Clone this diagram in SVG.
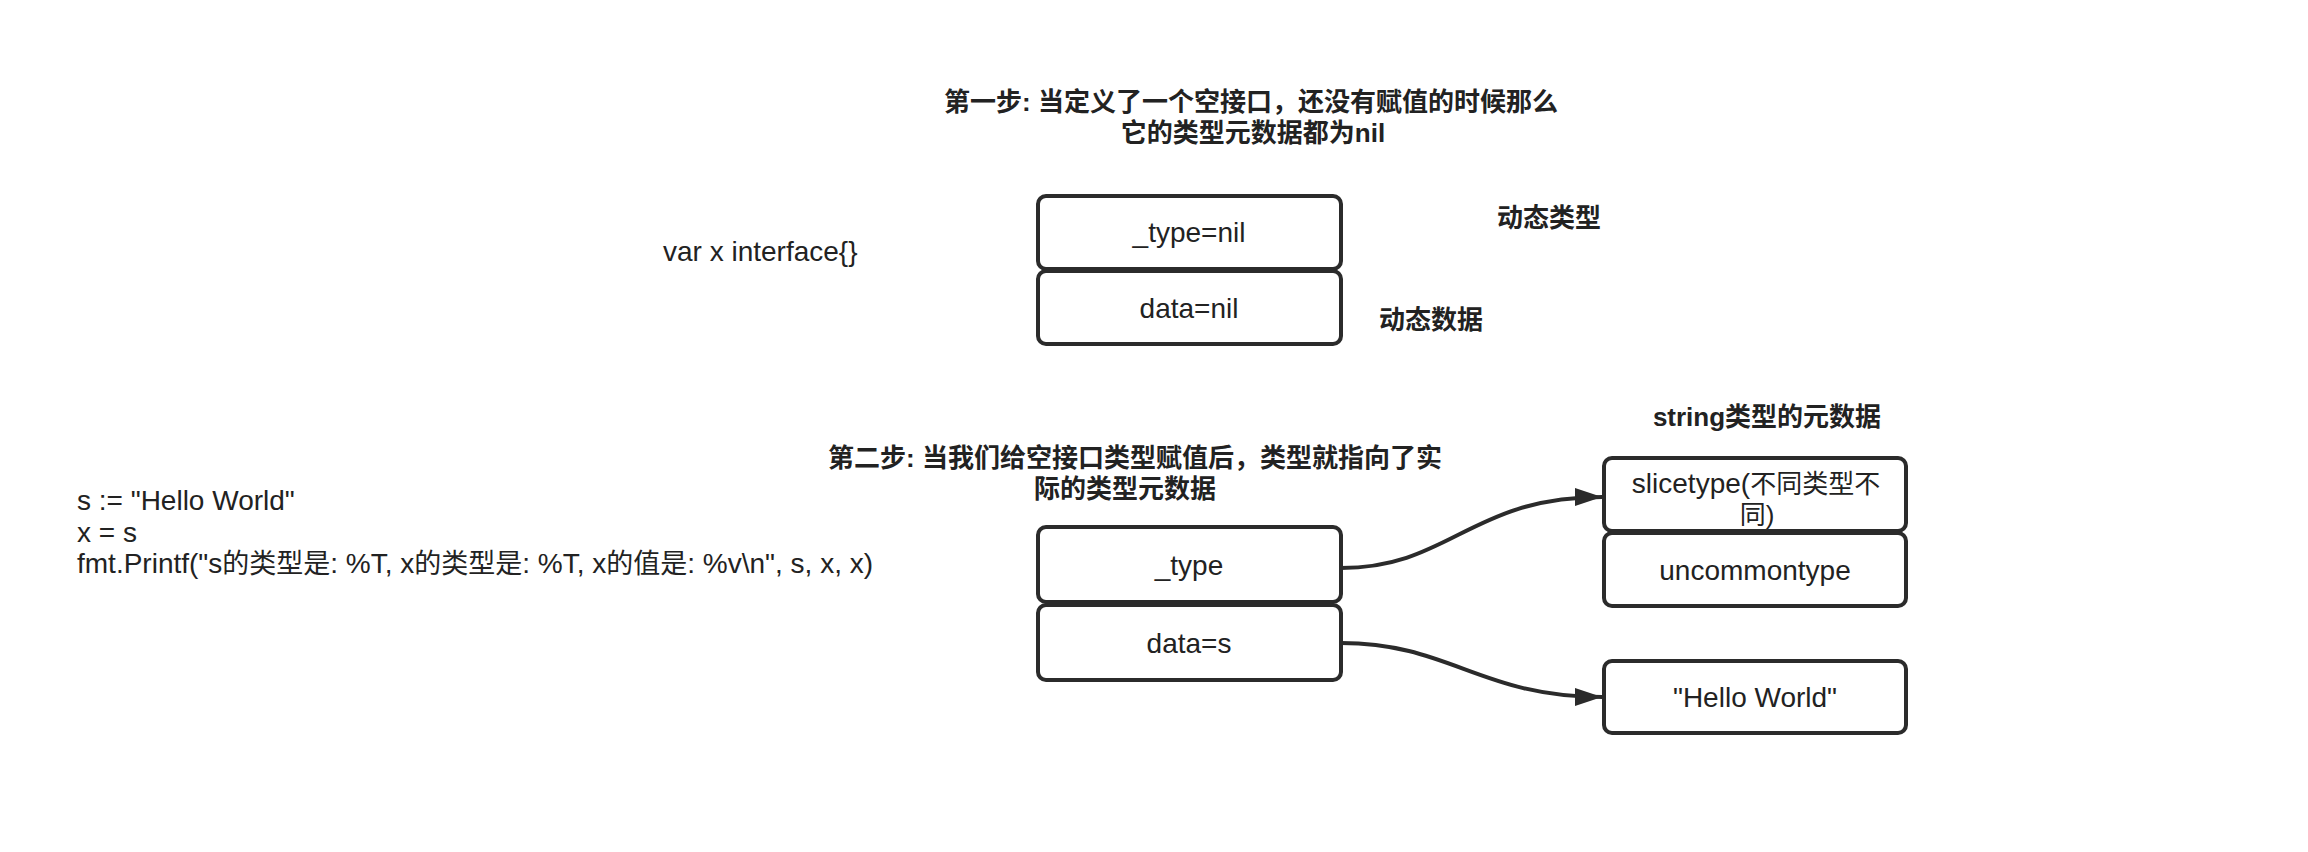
<svg xmlns="http://www.w3.org/2000/svg" width="2308" height="852" viewBox="0 0 2308 852">
<style>
text{font-family:"Liberation Sans","Noto Sans CJK SC",sans-serif;font-size:28px;fill:#222}
.b{font-weight:600;font-size:26px}
.c{text-anchor:middle}
.k{font-size:26px}
.k2{font-size:27px}
.box{fill:#fff;stroke:#2b2b2b;stroke-width:4}
.edge{fill:none;stroke:#2b2b2b;stroke-width:4}
</style>
<defs>
<marker id="arr" markerUnits="userSpaceOnUse" markerWidth="30" markerHeight="20" refX="27" refY="9" orient="auto">
<path d="M0,0 L27,9 L0,18 Z" fill="#2b2b2b"/>
</marker>
</defs>
<rect width="2308" height="852" fill="#fff"/>

<g id="title1">
<text class="b c" x="1251" y="111">第一步: 当定义了一个空接口，还没有赋值的时候那么</text>
<text class="b c" x="1253" y="142">它的类型元数据都为nil</text>
</g>
<g id="var-x"><text x="663" y="261">var x interface{}</text></g>
<g id="type-nil"><rect class="box" x="1038" y="196" width="303" height="73" rx="8"/><text class="c" x="1189" y="242">_type=nil</text></g>
<g id="data-nil"><rect class="box" x="1038" y="271" width="303" height="73" rx="8"/><text class="c" x="1189" y="318">data=nil</text></g>
<g id="dyn-type"><text class="b c" x="1549" y="227">动态类型</text></g>
<g id="dyn-data"><text class="b c" x="1431" y="329">动态数据</text></g>

<g id="code">
<text x="77" y="510">s := "Hello World"</text>
<text x="77" y="542">x = s</text>
<text x="77" y="573">fmt.Printf("s<tspan class="k2">的类型是</tspan>: %T, x<tspan class="k2">的类型是</tspan>: %T, x<tspan class="k2">的值是</tspan>: %v\n", s, x, x)</text>
</g>

<g id="title2">
<text class="b c" x="1135" y="467">第二步: 当我们给空接口类型赋值后，类型就指向了实</text>
<text class="b c" x="1125" y="498">际的类型元数据</text>
</g>
<g id="type"><rect class="box" x="1038" y="527" width="303" height="75" rx="8"/><text class="c" x="1189" y="575">_type</text></g>
<g id="data-s"><rect class="box" x="1038" y="605" width="303" height="75" rx="8"/><text class="c" x="1189" y="653">data=s</text></g>

<g id="string-meta-label"><text class="b c" x="1767" y="426">string类型的元数据</text></g>
<g id="slicetype"><rect class="box" x="1604" y="458" width="302" height="73" rx="8"/><text class="c" x="1756" y="493">slicetype(<tspan class="k">不同类型不</tspan></text><text class="c k" x="1757" y="524">同)</text></g>
<g id="uncommontype"><rect class="box" x="1604" y="533" width="302" height="73" rx="8"/><text class="c" x="1755" y="580">uncommontype</text></g>
<g id="hello"><rect class="box" x="1604" y="661" width="302" height="72" rx="8"/><text class="c" x="1755" y="707">"Hello World"</text></g>

<g id="connectors">
<path class="edge" d="M1341,568 C1450,568 1470,497 1602,497" marker-end="url(#arr)"/>
<path class="edge" d="M1341,643 C1450,643 1480,697 1602,697" marker-end="url(#arr)"/>
</g>
</svg>
